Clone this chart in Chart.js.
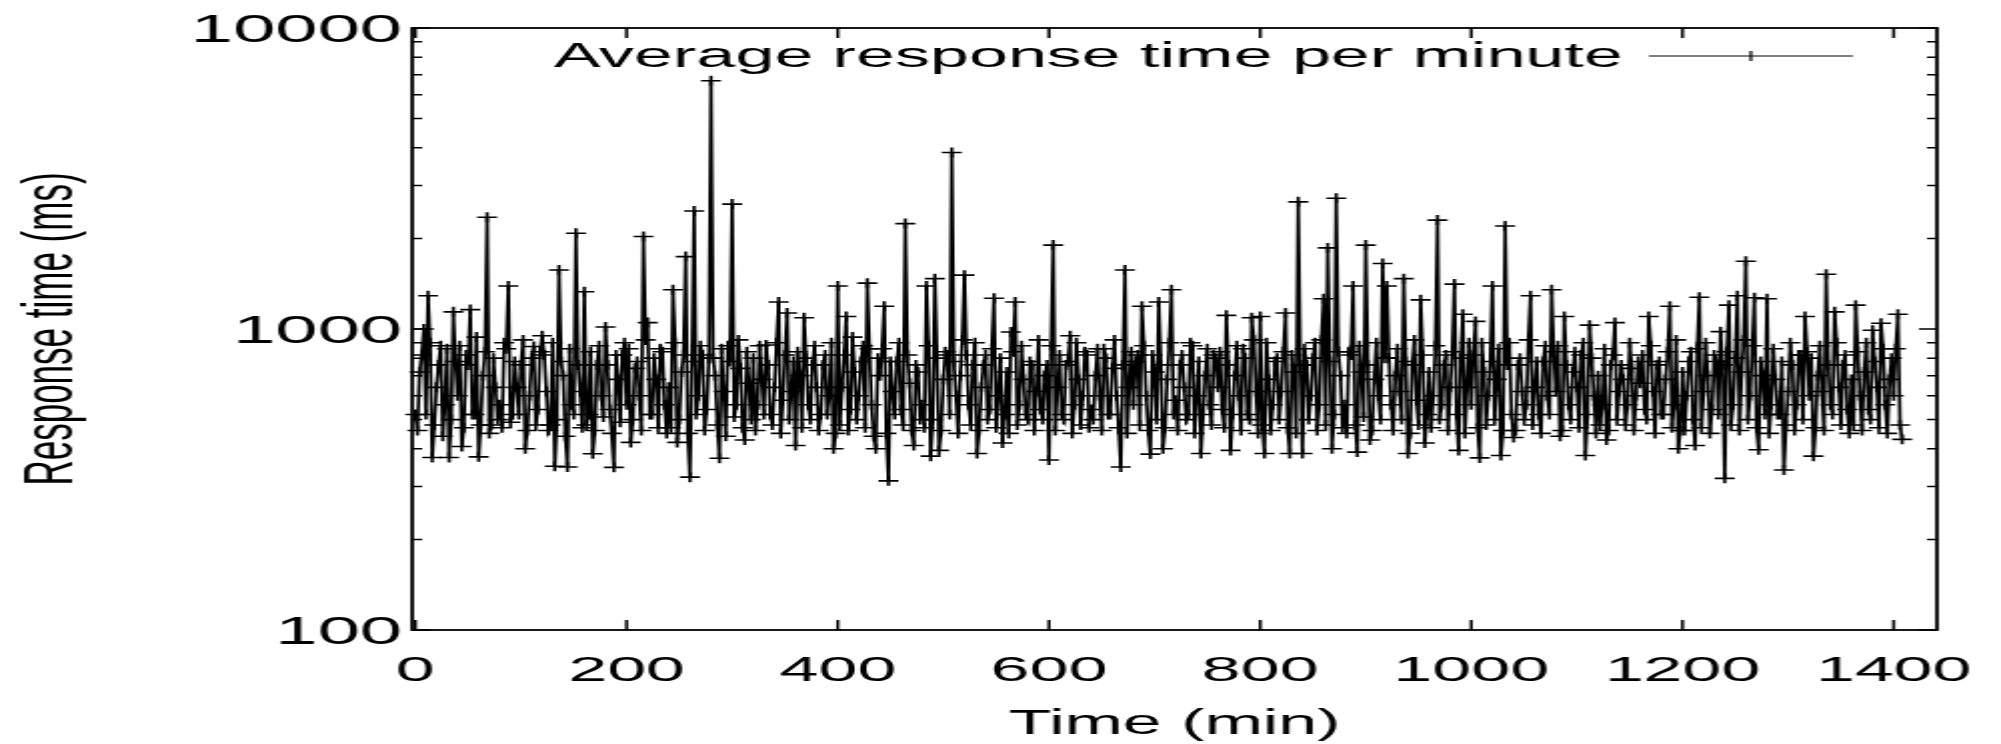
<!DOCTYPE html>
<html>
<head>
<meta charset="utf-8">
<title>Average response time per minute</title>
<script src="https://cdn.jsdelivr.net/npm/chart.js@4.4.1/dist/chart.umd.min.js"></script>
<style>
  html, body { margin: 0; padding: 0; background: #fff; }
</style>
</head>
<body>
<!-- drawn at half width, then stretched like the original figure -->
<canvas id="chart" width="1000" height="744" style="width:2001px;height:744px"></canvas>
<script>
const seriesLabel = 'Average response time per minute';
const stepMinutes = 2;

// one value every 2 minutes (ms); 40 minutes per row
const responseTimes = [
    520, 460, 720, 820, 1000, 520, 1290, 900, 374, 480, 640, 760, 880, 440, 560, 860, 374, 500, 1140, 780,
    600, 880, 407, 470, 820, 760, 1160, 520, 520, 940, 376, 480, 700, 840, 2350, 450, 480, 800, 640, 500,
    560, 470, 900, 860, 1390, 490, 520, 780, 640, 520, 760, 920, 400, 460, 600, 800, 875, 480, 540, 840,
    950, 820, 620, 460, 480, 900, 350, 500, 1570, 780, 700, 440, 348, 860, 560, 520, 2080, 760, 620, 470,
    1330, 480, 520, 840, 385, 460, 760, 880, 600, 510, 1015, 760, 540, 450, 347, 820, 680, 490, 820, 900,
    560, 860, 420, 500, 740, 780, 600, 460, 2030, 920, 1050, 520, 520, 800, 680, 470, 860, 840, 560, 450,
    640, 470, 1350, 900, 420, 500, 720, 820, 1740, 450, 322, 780, 2465, 520, 600, 880, 820, 460, 540, 800,
    6680, 800, 700, 480, 372, 860, 620, 440, 880, 780, 2600, 510, 560, 920, 740, 470, 428, 840, 660, 500,
    800, 460, 560, 880, 680, 520, 885, 760, 520, 480, 640, 900, 1230, 450, 580, 820, 1130, 500, 620, 780,
    410, 840, 700, 470, 1090, 800, 560, 500, 760, 880, 640, 460, 520, 760, 820, 520, 600, 900, 400, 450,
    1390, 480, 640, 820, 1100, 460, 540, 940, 720, 500, 600, 780, 880, 470, 1420, 860, 560, 440, 400, 800,
    700, 860, 1190, 450, 313, 780, 620, 520, 780, 900, 540, 480, 2240, 820, 660, 460, 410, 760, 720, 500,
    560, 470, 1390, 880, 378, 500, 1470, 800, 395, 460, 680, 840, 820, 520, 3860, 780, 600, 450, 700, 920,
    1510, 820, 560, 480, 760, 900, 386, 460, 640, 760, 820, 500, 540, 860, 1265, 470, 600, 800, 418, 520,
    720, 450, 977, 840, 1230, 480, 560, 880, 680, 520, 500, 780, 760, 460, 620, 920, 540, 500, 700, 760,
    367, 880, 1900, 460, 640, 820, 520, 500, 760, 780, 950, 450, 560, 900, 680, 480, 600, 840, 820, 470,
    540, 500, 700, 860, 600, 460, 860, 800, 520, 520, 740, 920, 600, 470, 348, 760, 1570, 450, 640, 840,
    560, 780, 820, 480, 1190, 880, 600, 460, 384, 820, 720, 500, 1230, 760, 400, 470, 680, 900, 1350, 520,
    580, 460, 760, 820, 640, 500, 520, 900, 880, 450, 600, 780, 386, 520, 700, 860, 560, 480, 820, 800,
    640, 840, 540, 470, 1110, 760, 395, 520, 700, 880, 600, 460, 860, 800, 520, 500, 1090, 920, 620, 450,
    1100, 480, 386, 900, 680, 460, 560, 780, 800, 500, 620, 840, 1130, 470, 386, 820, 720, 450, 2645, 760,
    386, 860, 760, 500, 600, 800, 900, 460, 560, 920, 1260, 480, 1860, 780, 400, 520, 2720, 840, 700, 470,
    560, 450, 840, 820, 1390, 480, 390, 880, 720, 510, 1900, 760, 428, 460, 680, 900, 600, 500, 1650, 800,
    1390, 800, 560, 460, 700, 860, 620, 500, 1470, 780, 386, 450, 760, 920, 580, 480, 1250, 820, 418, 520,
    720, 470, 600, 880, 2300, 500, 560, 760, 820, 460, 640, 840, 1410, 520, 395, 800, 1120, 450, 640, 900,
    560, 820, 1060, 470, 373, 900, 720, 480, 600, 780, 1390, 500, 680, 860, 380, 460, 2200, 760, 900, 520,
    436, 460, 760, 800, 620, 500, 560, 920, 1290, 480, 640, 780, 520, 450, 780, 880, 600, 520, 1350, 840,
    620, 880, 440, 460, 1100, 760, 560, 500, 720, 840, 640, 470, 820, 900, 380, 520, 1030, 800, 600, 450,
    700, 480, 560, 860, 428, 460, 760, 820, 1050, 500, 620, 760, 680, 480, 560, 900, 740, 460, 600, 780,
    660, 820, 540, 500, 1100, 880, 620, 450, 760, 780, 520, 520, 680, 840, 1190, 470, 560, 920, 400, 460,
    720, 460, 600, 780, 840, 500, 410, 860, 1275, 470, 620, 900, 700, 450, 540, 820, 780, 520, 980, 760,
    319, 840, 1200, 480, 560, 800, 1290, 460, 720, 920, 1680, 500, 600, 880, 1270, 470, 397, 780, 700, 520,
    1260, 450, 560, 860, 680, 520, 520, 780, 340, 480, 620, 900, 760, 460, 560, 820, 820, 500, 1100, 840,
    600, 800, 378, 470, 700, 880, 620, 460, 1520, 760, 560, 520, 1140, 900, 640, 480, 760, 820, 540, 450,
    680, 480, 1200, 840, 600, 460, 720, 900, 540, 500, 990, 780, 640, 470, 1045, 860, 560, 450, 680, 800,
    600, 860, 1120, 480, 430
];

const xTicks = [0, 200, 400, 600, 800, 1000, 1200, 1400];
const yTicks = [100, 1000, 10000];
const yMinorTicks = [200, 300, 400, 500, 600, 700, 800, 900, 2000, 3000, 4000, 5000, 6000, 7000, 8000, 9000];

const family = '"Liberation Sans", Arial, Helvetica, sans-serif';
const font = { family: family, size: 35 };
const yTickFont = { family: family, size: 38 };

// gnuplot style box: inward ticks on all four sides, plus the key
const framePlugin = {
    id: 'frame',
    afterDatasetsDraw(chart) {
        const { ctx, chartArea: a, scales: { x, y } } = chart;
        ctx.save();
        ctx.strokeStyle = '#000';
        ctx.lineWidth = 1.5;
        ctx.beginPath();
        xTicks.forEach((v) => {
            const px = x.getPixelForValue(v);
            ctx.moveTo(px, a.bottom); ctx.lineTo(px, a.bottom - 10);
            ctx.moveTo(px, a.top); ctx.lineTo(px, a.top + 10);
        });
        yTicks.forEach((v) => {
            const py = y.getPixelForValue(v);
            ctx.moveTo(a.left, py); ctx.lineTo(a.left + 9, py);
            ctx.moveTo(a.right, py); ctx.lineTo(a.right - 9, py);
        });
        yMinorTicks.forEach((v) => {
            const py = y.getPixelForValue(v);
            ctx.moveTo(a.left, py); ctx.lineTo(a.left + 5, py);
            ctx.moveTo(a.right, py); ctx.lineTo(a.right - 5, py);
        });
        ctx.stroke();

        ctx.lineWidth = 1.8;
        ctx.strokeRect(a.left, a.top, a.right - a.left, a.bottom - a.top);

        // key: text, then line sample with a point in the middle
        const keyY = a.top + 29;
        ctx.fillStyle = '#000';
        ctx.font = font.size + 'px ' + font.family;
        ctx.textAlign = 'right';
        ctx.textBaseline = 'middle';
        ctx.fillText(chart.data.datasets[0].label, a.right - 157, keyY);
        ctx.lineWidth = 1.2;
        ctx.beginPath();
        ctx.moveTo(a.right - 144, keyY - 1); ctx.lineTo(a.right - 42, keyY - 1);
        ctx.moveTo(a.right - 93, keyY - 6); ctx.lineTo(a.right - 93, keyY + 4);
        ctx.stroke();
        ctx.restore();
    }
};

new Chart(document.getElementById('chart'), {
    type: 'line',
    data: {
        datasets: [{
            label: seriesLabel,
            data: responseTimes.map((v, i) => ({ x: i * stepMinutes, y: v })),
            borderColor: '#000',
            borderWidth: 1.7,
            pointStyle: 'cross',
            pointRadius: 5,
            pointBorderColor: '#000',
            pointBorderWidth: 1.6,
            tension: 0,
            clip: false
        }]
    },
    options: {
        responsive: false,
        devicePixelRatio: 1,
        animation: false,
        layout: { padding: { top: 28, right: 32, bottom: 0, left: 0 } },
        plugins: {
            legend: { display: false },
            tooltip: { enabled: false }
        },
        scales: {
            x: {
                type: 'linear',
                min: -3,
                max: 1441,
                grid: { display: false, drawTicks: false },
                border: { display: false },
                afterBuildTicks: (s) => { s.ticks = xTicks.map((v) => ({ value: v })); },
                afterFit: (s) => { s.height = 114; s.paddingLeft = 0; s.paddingRight = 0; },
                ticks: { color: '#000', font: font, padding: 20, maxRotation: 0, autoSkip: false, callback: (v) => String(v) },
                title: { display: true, text: 'Time (min)', color: '#000', font: font, padding: { top: 0, bottom: -1 } }
            },
            y: {
                type: 'logarithmic',
                min: 100,
                max: 10000,
                grid: { display: false, drawTicks: false },
                border: { display: false },
                afterBuildTicks: (s) => { s.ticks = yTicks.map((v) => ({ value: v })); },
                afterFit: (s) => { s.width = 206; s.paddingTop = 0; s.paddingBottom = 0; },
                ticks: { color: '#000', font: yTickFont, padding: 5, labelOffset: 4, autoSkip: false, callback: (v) => String(v) },
                title: { display: true, text: 'Response time (ms)', color: '#000', font: font, padding: { top: 5, bottom: 0 } }
            }
        }
    },
    plugins: [framePlugin]
});
</script>
</body>
</html>
